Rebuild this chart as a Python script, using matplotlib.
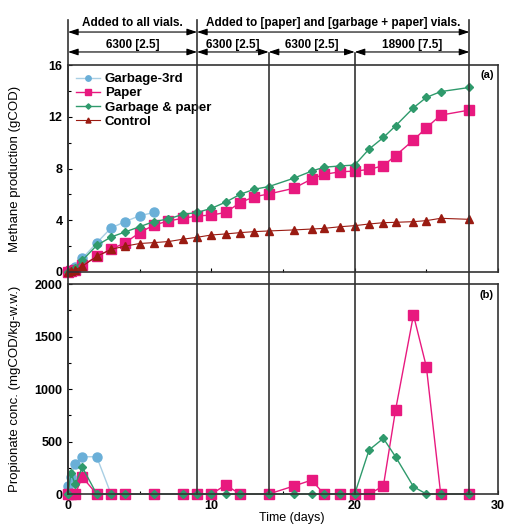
import numpy as np
import matplotlib.pyplot as plt
from matplotlib.transforms import blended_transform_factory

plt.rcParams['font.family'] = ['Liberation Sans', 'DejaVu Sans']
plt.rcParams['font.weight'] = 'bold'
plt.rcParams['font.size'] = 9

# methane production (gCOD)
t_ch4 = [0, 0.2, 0.5, 1, 2, 3, 4, 5, 6, 7, 8, 9, 10, 11, 12, 13, 14, 15.75, 17,
         17.85, 19, 20, 21, 22, 22.85, 24.1, 25, 26, 28]
garb3_ch4 = [0, 0.15, 0.4, 1.05, 2.25, 3.4, 3.9, 4.35, 4.6]
paper_ch4 = [0, 0.05, 0.15, 0.5, 1.2, 1.75, 2.27, 3.04, 3.63, 3.94, 4.15, 4.33, 4.4,
             4.6, 5.36, 5.82, 6.03, 6.47, 7.19, 7.55, 7.75, 7.8, 7.93, 8.22, 9.0,
             10.2, 11.15, 12.13, 12.52]
gp_ch4 = [0, 0.1, 0.3, 0.9, 2.05, 2.7, 3.1, 3.5, 3.9, 4.1, 4.45, 4.6, 4.92, 5.4, 6.0,
          6.4, 6.6, 7.25, 7.8, 8.1, 8.2, 8.27, 9.5, 10.4, 11.3, 12.7, 13.5, 13.95, 14.27]
ctrl_ch4 = [0, 0.05, 0.15, 0.45, 1.2, 1.75, 2.0, 2.2, 2.27, 2.35, 2.53, 2.68, 2.86,
            2.94, 3.04, 3.12, 3.17, 3.25, 3.32, 3.37, 3.5, 3.58, 3.71, 3.81, 3.84,
            3.89, 3.97, 4.15, 4.07]

# propionate (mgCOD/kg-w.w.)
t_prop = [0, 0.2, 0.5, 1, 2, 3, 4, 6, 8, 9, 10, 11, 12, 14, 15.75, 17, 17.85, 19,
          20, 21, 22, 22.85, 24.1, 25, 26, 28]
garb3_prop = [80, 165, 290, 355, 355, 0, 0, 0]
paper_prop = [0, 0, 0, 160, 0, 0, 0, 0, 0, 0, 0, 86, 0, 0, 76, 133, 0, 0, 0, 0, 76,
              800, 1705, 1212, 0, 0]
gp_prop = [0, 200, 95, 255, 0, 0, 0, 0, 0, 0, 0, 0, 0, 0, 0, 0, 0, 0, 0, 419, 530,
           355, 70, 0, 0, 0]

# feeding events
feed_days = [0, 9, 14, 20, 28]
row1 = [(0, 9, 'Added to all vials.'),
        (9, 28, 'Added to [paper] and [garbage + paper] vials.')]
row2 = [(0, 9, '6300 [2.5]'), (9, 14, '6300 [2.5]'), (14, 20, '6300 [2.5]'),
        (20, 28, '18900 [7.5]')]

c_blue, c_blue_l = '#6aafd8', '#a9cfe4'
c_pink = '#e8197f'
c_green = '#2f9a6c'
c_red = '#9a1b12'

fig = plt.figure(figsize=(5.05, 5.25), dpi=100)
ax1 = fig.add_axes([0.1347, 0.482, 0.8515, 0.394])
ax2 = fig.add_axes([0.1347, 0.059, 0.8515, 0.400])

n3 = len(garb3_ch4)
ax1.plot(t_ch4[:n3], garb3_ch4, '-o', color=c_blue_l, mfc=c_blue, mec=c_blue,
         ms=6.5, lw=1, label='Garbage-3rd')
ax1.plot(t_ch4, paper_ch4, '-s', color=c_pink, ms=6.5, lw=1, label='Paper')
ax1.plot(t_ch4, gp_ch4, '-D', color=c_green, ms=4.5, lw=1, label='Garbage & paper')
ax1.plot(t_ch4, ctrl_ch4, '-^', color=c_red, ms=6, lw=0.8, label='Control')
ax1.set_xlim(0, 30)
ax1.set_ylim(0, 16)
ax1.set_yticks([0, 4, 8, 12, 16])
ax1.set_yticks([2, 6, 10, 14], minor=True)
ax1.set_xticks([0, 10, 20, 30])
ax1.set_xticks([5, 15, 25], minor=True)
ax1.set_xticklabels([])
ax1.set_ylabel('Methane production (gCOD)', fontsize=9.5)
ax1.yaxis.set_label_coords(-0.11, 0.5)
ax1.text(0.99, 0.95, '(a)', transform=ax1.transAxes, ha='right', va='center', fontsize=8)
ax1.legend(loc='upper left', frameon=False, fontsize=9.5, handlelength=1.8,
           markerscale=0.6, borderaxespad=0.2, labelspacing=0.15, handletextpad=0.4)

n3p = len(garb3_prop)
ax2.plot(t_prop[:n3p], garb3_prop, '-o', color=c_blue_l, mfc=c_blue, mec=c_blue,
         ms=6.5, lw=1)
ax2.plot(t_prop, paper_prop, '-s', color=c_pink, ms=6.5, lw=1)
ax2.plot(t_prop, gp_prop, '-D', color=c_green, ms=4.5, lw=1)
ax2.set_xlim(0, 30)
ax2.set_ylim(0, 2000)
ax2.set_yticks([0, 500, 1000, 1500, 2000])
ax2.set_yticks([250, 750, 1250, 1750], minor=True)
ax2.set_xticks([0, 10, 20, 30])
ax2.set_xticks([5, 15, 25], minor=True)
ax2.set_ylabel('Propionate conc. (mgCOD/kg-w.w.)', fontsize=9.5)
ax2.yaxis.set_label_coords(-0.11, 0.5)
ax2.set_xlabel('Time (days)', fontsize=9)
ax2.xaxis.set_label_coords(0.52, -0.085)
ax2.text(0.99, 0.95, '(b)', transform=ax2.transAxes, ha='right', va='center', fontsize=8)

for ax in (ax1, ax2):
    ax.tick_params(direction='in', which='both', length=3, width=0.8, labelsize=9, pad=4)
    ax.tick_params(which='minor', length=2)
    for s in ax.spines.values():
        s.set_linewidth(1.2)
        s.set_color('#333333')
    for p in ax.lines:
        p.set_clip_on(False)

# vertical lines and arrows above the panels
tr = blended_transform_factory(ax1.transData, fig.transFigure)
tops = {0: 0.962, 9: 0.962, 14: 0.899, 20: 0.899, 28: 0.962}
for d in feed_days:
    fig.add_artist(plt.Line2D([d, d], [0.059, tops[d]], transform=tr,
                              color='#333333', lw=1.2))

for y_arr, y_txt, row in [(0.939, 0.957, row1), (0.901, 0.915, row2)]:
    for a, b, lab in row:
        ax1.annotate('', xy=(b, y_arr), xytext=(a, y_arr), xycoords=tr, textcoords=tr,
                     arrowprops=dict(arrowstyle='<|-|>,head_length=0.6,head_width=0.2',
                                     color='black', lw=0.8, shrinkA=0, shrinkB=0,
                                     mutation_scale=10))
        fig.text((a + b) / 2, y_txt, lab, transform=tr, ha='center', va='center',
                 fontsize=8.5)

fig.savefig('out.png', dpi=100)
